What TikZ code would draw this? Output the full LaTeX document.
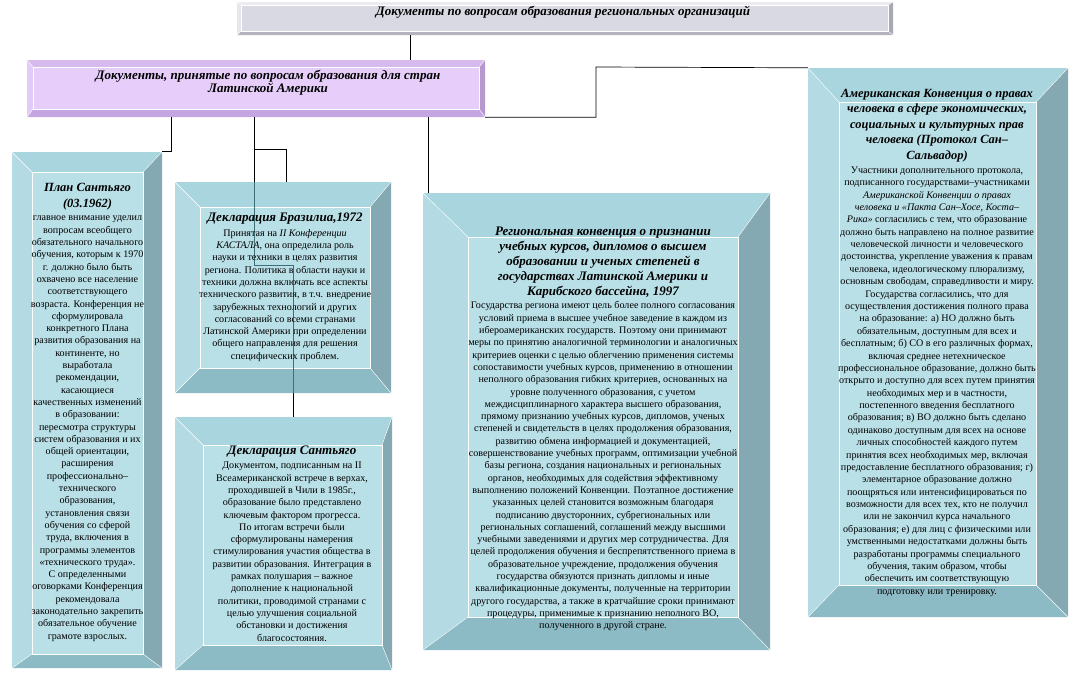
\documentclass[tikz,border=0pt]{standalone}
\usepackage{fontspec}
\setmainfont{Liberation Serif}
\usetikzlibrary{fit}

\definecolor{aqface}{HTML}{B9DFE7}
\definecolor{aqtop}{HTML}{A9D5DF}
\definecolor{aqleft}{HTML}{B4DBE4}
\definecolor{aqright}{HTML}{84A9B2}
\definecolor{aqbot}{HTML}{8DBBC5}
\definecolor{lvface}{HTML}{E6CDFA}
\definecolor{lvtop}{HTML}{D6BAEE}
\definecolor{lvleft}{HTML}{E2CBF8}
\definecolor{lvright}{HTML}{B498CE}
\definecolor{lvbot}{HTML}{C6A6E2}
\definecolor{gyface}{HTML}{D9D9E3}
\definecolor{gytop}{HTML}{EBEBF0}
\definecolor{gyleft}{HTML}{E6E6EC}
\definecolor{gyright}{HTML}{A9A9B6}
\definecolor{gybot}{HTML}{B4B4C0}
\definecolor{linkteal}{HTML}{3E6F78}

% bevelled box: name, palette, outer nw, outer se, inner nw, inner se
\newcommand{\bevelbox}[6]{%
	\coordinate (#1-a) at (#3); \coordinate (#1-b) at (#4);
	\coordinate (#1-c) at (#5); \coordinate (#1-d) at (#6);
	\fill[#2top] (#1-a) -- (#1-a -| #1-b) -- (#1-c -| #1-d) -- (#1-c) -- cycle;
	\fill[#2left] (#1-a) -- (#1-c) -- (#1-c |- #1-d) -- (#1-a |- #1-b) -- cycle;
	\fill[#2right] (#1-a -| #1-b) -- (#1-b) -- (#1-d) -- (#1-c -| #1-d) -- cycle;
	\fill[#2bot] (#1-a |- #1-b) -- (#1-c |- #1-d) -- (#1-d) -- (#1-b) -- cycle;
	\draw[white, line width=0.6pt, fill=#2face] (#1-c) rectangle (#1-d);
	\draw[white, line width=0.4pt] (#1-a) -- (#1-c) (#1-a -| #1-b) -- (#1-c -| #1-d) (#1-a |- #1-b) -- (#1-c |- #1-d) (#1-b) -- (#1-d);
	\node[fit=(#1-a)(#1-b), inner sep=0pt] (#1) {};
}

\tikzset{
	ttl/.style={font=\bfseries\itshape\fontsize{13}{15}\selectfont, align=center, inner sep=0pt, anchor=north},
	txt/.style={font=\fontsize{10.1}{12.3}\selectfont, align=center, inner sep=0pt, anchor=north},
	link/.style={line width=0.7pt}
}

\begin{document}
\begin{tikzpicture}[x=1pt, y=-1pt]
	\useasboundingbox (0,0) rectangle (1081,675);
	\coordinate (j0) at (410,47);
	\coordinate (j1) at (254,149);
	\coordinate (j2) at (293,265);
	\coordinate (j3) at (286,149);
	\coordinate (j4) at (171,152);
	\coordinate (j5) at (428,150);
	\coordinate (j6) at (596,67);
	% connectors under the boxes
	\draw[link] (j1) |- (j2) -- (293,417);
	% boxes
	\bevelbox{top}{gy}{237,2}{893,35}{241,5}{888,31}
	\bevelbox{latam}{lv}{27,60}{485,117}{33,67}{479,109}
	\bevelbox{plan}{aq}{12,152}{162,668}{32,172}{143,654}
	\bevelbox{brazil}{aq}{175,182}{391,393}{200,207}{370,368}
	\bevelbox{decl}{aq}{175,417}{392,670}{203,445}{382,645}
	\bevelbox{conv}{aq}{423,193}{770,650}{468,237}{738,617}
	\bevelbox{salv}{aq}{808,68}{1068,617}{839,102}{1036,585}
	% links
	\draw[link] (top.south -| j0) -- (latam.north -| j0);
	\draw[link] (latam.south -| j4) |- (plan.north east);
	\draw[link] (latam.south -| j1) -- (j1) -- (j3) -- (brazil.north -| j3);
	\draw[linkteal, line width=0.7pt] (brazil.north -| j1) |- (j2) -- (brazil.south -| j2);
	\draw[link] (latam.south -| j5) -- (conv.north -| j5);
	\draw[link] (latam.south east) -| (j6) -- (salv.north west);
	% texts
	\node[ttl] (top-t) at (563,6) {Документы по вопросам образования региональных организаций};
	\node[ttl, font=\bfseries\itshape\fontsize{13}{13}\selectfont] (latam-t) at (268,70) {Документы, принятые по вопросам образования для стран\\Латинской Америки};
	\node[ttl, font=\bfseries\itshape\fontsize{12.5}{16}\selectfont] (plan-t) at (87.5,183) {План Сантьяго\\(03.1962)};
	\node[txt] (plan-x) at (87.5,216) {главное внимание уделил\\вопросам всеобщего\\обязательного начального\\обучения, которым к 1970\\г. должно было быть\\охвачено все население\\соответствующего\\возраста. Конференция не\\сформулировала\\конкретного Плана\\развития образования на\\континенте, но\\выработала\\рекомендации,\\касающиеся\\качественных изменений\\в образовании:\\пересмотра структуры\\систем образования и их\\общей ориентации,\\расширения\\профессионально–\\технического\\образования,\\установления связи\\обучения со сферой\\труда, включения в\\программы элементов\\«технического труда».\\С определенными\\оговорками Конференция\\рекомендовала\\законодательно закрепить\\обязательное обучение\\грамоте взрослых.};
	\node[ttl] (brazil-t) at (285,213) {Декларация Бразилиа,1972};
	\node[txt] (brazil-x) at (285,229) {Принятая на \textit{II Конференции}\\\textit{КАСТАЛА}, она определила роль\\науки и техники в целях развития\\региона. Политика в области науки и\\техники должна включать все аспекты\\технического развития, в т.ч. внедрение\\зарубежных технологий и других\\согласований со всеми странами\\Латинской Америки при определении\\общего направления для решения\\специфических проблем.};
	\node[ttl] (decl-t) at (292,446) {Декларация Сантьяго};
	\node[txt] (decl-x) at (292,462) {Документом, подписанным на II\\Всеамериканской встрече в верхах,\\проходившей в Чили в 1985г.,\\образование было представлено\\ключевым фактором прогресса.\\По итогам встречи были\\сформулированы намерения\\стимулирования участия общества в\\развитии образования. Интеграция в\\рамках полушария – важное\\дополнение к национальной\\политики, проводимой странами с\\целью улучшения социальной\\обстановки и достижения\\благосостояния.};
	\node[ttl] (conv-t) at (603,227) {Региональная конвенция о признании\\учебных курсов, дипломов о высшем\\образовании и ученых степеней в\\государствах Латинской Америки и\\Карибского бассейна, 1997};
	\node[txt] (conv-x) at (603,301.5) {Государства региона имеют цель более полного согласования\\условий приема в высшее учебное заведение в каждом из\\ибероамериканских государств. Поэтому они принимают\\меры по принятию аналогичной терминологии и аналогичных\\критериев оценки с целью облегчению применения системы\\сопоставимости учебных курсов, применению в отношении\\неполного образования гибких критериев, основанных на\\уровне полученного образования, с учетом\\междисциплинарного характера высшего образования,\\прямому признанию учебных курсов, дипломов, ученых\\степеней и свидетельств в целях продолжения образования,\\развитию обмена информацией и документацией,\\совершенствование учебных программ, оптимизации учебной\\базы региона, создания национальных и региональных\\органов, необходимых для содействия эффективному\\выполнению положений Конвенции. Поэтапное достижение\\указанных целей становится возможным благодаря\\подписанию двусторонних, субрегиональных или\\региональных соглашений, соглашений между высшими\\учебными заведениями и других мер сотрудничества. Для\\целей продолжения обучения и беспрепятственного приема в\\образовательное учреждение, продолжения обучения\\государства обязуются признать дипломы и иные\\квалификационные документы, полученные на территории\\другого государства, а также в кратчайшие сроки принимают\\процедуры, применимые к признанию неполного ВО,\\полученного в другой стране.};
	\node[ttl, font=\bfseries\itshape\fontsize{12.5}{15.5}\selectfont] (salv-t) at (937,89) {Американская Конвенция о правах\\человека в сфере экономических,\\социальных и культурных прав\\человека (Протокол Сан–\\Сальвадор)};
	\node[txt, font=\fontsize{10.1}{12.38}\selectfont] (salv-x) at (937,166.5) {Участники дополнительного протокола,\\подписанного государствами–участниками\\\textit{Американской Конвенции о правах}\\\textit{человека и «Пакта Сан–Хосе, Коста–}\\\textit{Рика»} согласились с тем, что образование\\должно быть направлено на полное развитие\\человеческой личности и человеческого\\достоинства, укрепление уважения к правам\\человека, идеологическому плюрализму,\\основным свободам, справедливости и миру.\\Государства согласились, что для\\осуществления достижения полного права\\на образование: а) НО должно быть\\обязательным, доступным для всех и\\бесплатным; б) СО в его различных формах,\\включая среднее нетехническое\\профессиональное образование, должно быть\\открыто и доступно для всех путем принятия\\необходимых мер и в частности,\\постепенного введения бесплатного\\образования; в) ВО должно быть сделано\\одинаково доступным для всех на основе\\личных способностей каждого путем\\принятия всех необходимых мер, включая\\предоставление бесплатного образования; г)\\элементарное образование должно\\поощряться или интенсифицироваться по\\возможности для всех тех, кто не получил\\или не закончил курса начального\\образования; е) для лиц с физическими или\\умственными недостатками должны быть\\разработаны программы специального\\обучения, таким образом, чтобы\\обеспечить им соответствующую\\подготовку или тренировку.};
\end{tikzpicture}
\end{document}
